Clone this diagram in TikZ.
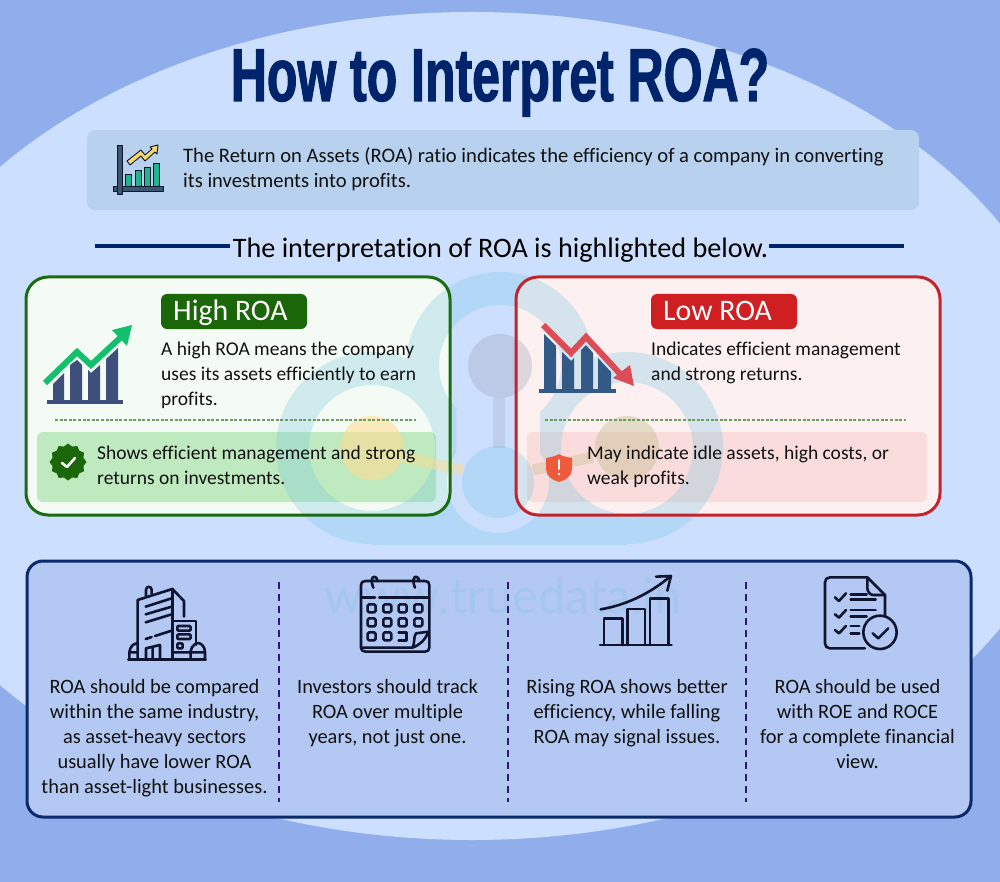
\documentclass[tikz,border=0pt]{standalone}
\usepackage{fontspec}
\usetikzlibrary{shapes.geometric}
\setmainfont[Ligatures=NoCommon]{Carlito}
\newfontfamily\titlefont[UprightFont={* Bold},FakeStretch=0.666,FakeBold=1.4]{Liberation Sans}
\newfontfamily\wmfont{Lato}
\definecolor{bgblue}{HTML}{8FAEEB}
\definecolor{ellblue}{HTML}{CDDFFE}
\definecolor{navy}{HTML}{00246B}
\definecolor{hdrbox}{HTML}{B7D1EE}
\definecolor{panelblue}{HTML}{B3C8F2}
\definecolor{panelline}{HTML}{0A2A6B}
\definecolor{divider}{HTML}{2B1A7A}
\definecolor{grn}{HTML}{1B6608}
\definecolor{grnline}{HTML}{1B6B13}
\definecolor{grncard}{HTML}{F4FBF4}
\definecolor{grnbox}{HTML}{BFE9BE}
\definecolor{red1}{HTML}{D01F22}
\definecolor{redline}{HTML}{C3242B}
\definecolor{redcard}{HTML}{FDF0F0}
\definecolor{redbox}{HTML}{FADCDC}
\definecolor{dashg}{HTML}{6E9B5F}
\definecolor{wmblue}{HTML}{70C5E2}
\definecolor{wmtop}{HTML}{969CB4}
\definecolor{wmyel}{HTML}{FFDD94}
\definecolor{wmolive}{HTML}{B4B478}
\definecolor{barnavy}{HTML}{3D4F7A}
\definecolor{barsteel}{HTML}{335A86}
\definecolor{upgreen}{HTML}{12BF6D}
\definecolor{downred}{HTML}{DB4C56}
\definecolor{iconink}{HTML}{0F1530}
\definecolor{ink}{HTML}{111111}
\definecolor{tealbar}{HTML}{22B48C}
\definecolor{yelarrow}{HTML}{F7D96A}
\definecolor{axisblue}{HTML}{3B5670}
\definecolor{shieldred}{HTML}{F05A3C}
\tikzset{
  lead/.style={inner sep=0pt,anchor=north west,align=left,text=ink,font=\fontsize{19.5}{25}\selectfont},
  leadwide/.style={lead,font=\fontsize{20.6}{25}\selectfont},
  colnote/.style={inner sep=0pt,anchor=north,align=center,text=ink,font=\fontsize{20.4}{25}\selectfont},
  pilltext/.style={inner sep=0pt,anchor=base west,text=white,font=\fontsize{29.8}{32}\selectfont},
  card/.style={rounded corners=22pt,line width=3pt},
  softbox/.style={rounded corners=6pt},
  pill/.style={rounded corners=6pt},
  dashrule/.style={draw=dashg,line width=1.1pt,dash pattern=on 3pt off 1.6pt},
  coldiv/.style={draw=divider,line width=2pt,dash pattern=on 7pt off 5pt},
  ruleline/.style={draw=navy,line width=3.5pt},
  ico/.style={draw=iconink,line width=2.6pt,line cap=round,line join=round},
}
\begin{document}
\begin{tikzpicture}[x=1pt,y=-1pt]
\useasboundingbox (0,0) rectangle (1000,882);
\begin{scope}
\clip (0,0) rectangle (1000,882);
\fill[bgblue] (0,0) rectangle (1000,882);
\fill[ellblue] (472,426) ellipse [x radius=605,y radius=414];
\end{scope}

% header box
\fill[hdrbox,rounded corners=8pt] (87,130) rectangle (919,210);

% cards
\path[card,fill=grncard] (26,277) rectangle (450,515);
\path[card,fill=redcard] (516,277) rectangle (940,515);
\fill[grnbox,softbox] (37,432) rectangle (436,502);
\fill[redbox,softbox] (527,432) rectangle (927,502);

% logo watermark
\begin{scope}[transparency group,opacity=.28]
\begin{scope}[even odd rule]
\clip (0,0) rectangle (1000,882) (372,448) circle [radius=63];
\clip (0,0) rectangle (1000,882) (627,448) circle [radius=66];
\clip (0,0) rectangle (1000,882) (500,366) circle [radius=61];
\clip (0,0) rectangle (1000,882) (498,482) circle [radius=51];
\clip (0,0) rectangle (1000,882) (456,410) rectangle (540,470);
\fill[wmblue] (372,448) circle [radius=96];
\fill[wmblue] (627,448) circle [radius=96];
\fill[wmblue] (500,366) circle [radius=94];
\fill[wmblue] (372,500) rectangle (627,545);
\end{scope}
\fill[wmblue] (498,482) circle [radius=36];
\end{scope}
\fill[wmtop,opacity=.3] (500,366) circle [radius=32];
\fill[wmtop,opacity=.25] (493,398) rectangle (505,448);
\fill[wmyel,opacity=.6] (372,448) circle [radius=32];
\draw[wmyel,opacity=.5,line width=11pt] (403,457) -- (463,470);
\fill[wmolive,opacity=.33] (627,448) circle [radius=32];
\draw[wmolive,opacity=.28,line width=11pt] (533,470) -- (593,457);

% card borders on top
\draw[card,draw=grnline] (26,277) rectangle (450,515);
\draw[card,draw=redline] (516,277) rectangle (940,515);

% title and intro
\node[inner sep=0pt,anchor=base,text=navy,font=\fontsize{75}{80}\titlefont] (title) at (500,101) {How to Interpret ROA?};

% intro icon
\begin{scope}[line join=round]
  \foreach \bx/\bt in {125/174,135/170,144/167,153/163}{
    \draw[fill=tealbar,draw=iconink,line width=.6pt] (\bx,186) rectangle (\bx+6,\bt);
  }
  \draw[fill=yelarrow,draw=iconink,line width=.9pt]
    (127,161) -- (141,150) -- (145,155) -- (152,149) -- (150,147) -- (158,145) -- (157,154) -- (155,152) -- (145,161) -- (141,156) -- (130,165) -- cycle;
  \draw[fill=axisblue,draw=iconink,line width=.7pt] (113,186) rectangle (163,191);
  \draw[fill=axisblue,draw=iconink,line width=.7pt] (117,145) rectangle (122,194);
\end{scope}
\node[leadwide] (intro) at (183,144.5) {\strut The Return on Assets (ROA) ratio indicates the efficiency of a company in converting\\its investments into profits.};

% section heading
\node[inner sep=0pt,anchor=base,text=black,font=\fontsize{28.2}{32}\selectfont] (section) at (500.5,257.5) {The interpretation of ROA is highlighted below.};
\coordinate (ruleL) at (95,246);
\coordinate (ruleR) at (904,246);
\draw[ruleline] (ruleL) -- (230,246);
\draw[ruleline] (769,246) -- (ruleR);

% High ROA
\path[pill,fill=grn] (161,294) rectangle (307,329);
\node[pilltext] (hightitle) at (173,320) {High ROA};
\fill[barnavy] (53,402) -- (53,384) -- (64,373) -- (64,402) -- cycle;
\fill[barnavy] (70,402) -- (70,365) -- (77,360) -- (82,365) -- (82,402) -- cycle;
\fill[barnavy] (88,402) -- (88,370) -- (91,373) -- (100,365) -- (100,402) -- cycle;
\fill[barnavy] (106,402) -- (106,359) -- (118,348) -- (118,402) -- cycle;
\fill[barnavy] (47,400) rectangle (123,404);
\draw[upgreen,line width=6pt,line join=miter] (45,383) -- (77,352) -- (91,365) -- (120,338);
\fill[upgreen] (132,325) -- (112,330) -- (127,346) -- cycle;
\node[lead] (hightext) at (161,337.5) {\strut A high ROA means the company\\uses its assets efficiently to earn\\profits.};
\coordinate (dashHa) at (55,420);
\coordinate (dashHb) at (416,420);
\draw[dashrule] (dashHa) -- (dashHb);
\node[star,star points=12,star point ratio=1.16,minimum size=37pt,inner sep=0pt,fill=grn] (badge) at (68,462) {};
\draw[white,line width=2.6pt,line cap=round,line join=round] (62,463) -- (67,467) -- (75,458);
\node[lead] (highnote) at (97,442) {\strut Shows efficient management and strong\\returns on investments.};

% Low ROA
\path[pill,fill=red1] (651,294) rectangle (797,329);
\node[pilltext] (lowtitle) at (663,320) {Low ROA};
\fill[barsteel] (544,391) -- (544,334) -- (556,346) -- (556,391) -- cycle;
\fill[barsteel] (562,391) -- (562,352) -- (571,361) -- (574,358) -- (574,391) -- cycle;
\fill[barsteel] (581,391) -- (581,350) -- (586,345) -- (593,353) -- (593,391) -- cycle;
\fill[barsteel] (598,391) -- (598,358) -- (611,372) -- (611,391) -- cycle;
\fill[barsteel] (539,389) rectangle (616,392.5);
\draw[downred,line width=6pt,line join=miter] (543,325) -- (571,353) -- (586,337) -- (623,377);
\fill[downred] (634,386) -- (613,378) -- (630,365) -- cycle;
\node[lead] (lowtext) at (651,337.5) {\strut Indicates efficient management\\and strong returns.};
\coordinate (dashLa) at (545,420);
\coordinate (dashLb) at (906,420);
\draw[dashrule] (dashLa) -- (dashLb);
\fill[shieldred] (546,458) .. controls (552,457) and (556,456) .. (559,454) .. controls (562,456) and (566,457) .. (572,458) -- (572,469) .. controls (572,476) and (566,480) .. (559,482) .. controls (552,480) and (546,476) .. (546,469) -- cycle;
\draw[white,line width=2pt,line cap=round] (559,460) -- (559,469);
\fill[white] (559,474) circle [radius=1.3];
\node[lead] (lownote) at (587,442) {\strut May indicate idle assets, high costs, or\\weak profits.};

% bottom panel
\draw[panelline,fill=panelblue,line width=3pt,rounded corners=16pt] (27,561) rectangle (971,817);
\node[inner sep=0pt,anchor=base,text=wmblue!20!panelblue,font=\fontsize{48.7}{52}\wmfont] (wmtext) at (503,613) {www.truedata.in};
\foreach \dx/\dn in {279/a,508/b,746/c}{
  \coordinate (div\dn t) at (\dx,582);
  \coordinate (div\dn b) at (\dx,802);
  \draw[coldiv] (div\dn t) -- (div\dn b);
}

% building icon
\begin{scope}[shift={(100,565)},scale=.3333]
  \draw[ico] (113,280) -- (113,105) -- (217,72) -- (252,108) -- (252,155);
  \draw[ico] (138,95) -- (138,75) .. controls (138,62) and (155,62) .. (155,75) -- (155,88);
  \draw[ico] (137,125) -- (215,100) (137,148) -- (215,125) (137,172) -- (215,148) (137,222) -- (155,216) (165,213) -- (215,197);
  \draw[ico] (217,72) -- (217,280);
  \draw[ico] (217,168) -- (288,168) -- (288,240);
  \draw[ico,rounded corners=1pt] (232,183) rectangle (272,197) (232,208) rectangle (272,222) (232,235) rectangle (248,250);
  \draw[ico] (138,280) -- (138,250) -- (180,240) -- (180,280) (158,245) -- (158,280);
  \draw[ico] (85,283) -- (317,283);
  \draw[ico] (88,283) -- (88,262) .. controls (90,245) and (100,235) .. (113,235) (88,262) -- (113,262);
  \draw[ico] (217,262) -- (272,262) (272,283) -- (272,258) .. controls (275,240) and (290,234) .. (295,234) .. controls (305,236) and (315,245) .. (315,262) -- (315,283) (272,262) -- (315,262);
\end{scope}

% calendar icon
\begin{scope}[shift={(100,565)},scale=.3333]
  \draw[ico] (937,260) -- (797,260) .. controls (788,260) and (783,255) .. (783,248) -- (783,60) .. controls (783,52) and (788,48) .. (797,48) -- (975,48) .. controls (984,48) and (988,52) .. (988,60) -- (988,248) .. controls (988,255) and (984,260) .. (975,260) -- (937,260);
  \draw[ico] (785,98) -- (825,98) (838,98) -- (985,98);
  \draw[ico] (820,68) .. controls (812,50) and (815,35) .. (823,35) .. controls (830,35) and (832,42) .. (832,48);
  \draw[ico] (945,68) .. controls (937,50) and (940,35) .. (948,35) .. controls (955,35) and (957,42) .. (957,48);
  \foreach \cy in {130,172}{\foreach \cx in {815,862,908,955}{
    \draw[ico,rounded corners=1.5pt] (\cx-12,\cy-12) rectangle (\cx+12,\cy+12);}}
  \foreach \cx in {815,862}{\draw[ico,rounded corners=1.5pt] (\cx-12,202) rectangle (\cx+12,226);}
  \draw[ico] (896,202) -- (920,202) -- (920,226) -- (896,226);
  \draw[ico] (785,248) -- (937,248) .. controls (945,240) and (940,215) .. (948,205) -- (986,200) (937,248) .. controls (960,240) and (975,225) .. (986,200);
\end{scope}

% growth icon
\begin{scope}[shift={(580,565)},scale=.3333]
  \draw[ico] (60,240) -- (275,240);
  \draw[ico] (72,240) -- (72,160) -- (128,160) -- (128,240);
  \draw[ico] (142,240) -- (142,132) -- (195,132) -- (195,240);
  \draw[ico] (210,240) -- (210,100) -- (265,100) -- (265,240);
  \draw[ico] (62,133) .. controls (140,120) and (210,85) .. (270,35);
  \draw[ico] (228,35) -- (273,33) -- (262,77);
\end{scope}

% checklist icon
\begin{scope}[shift={(580,565)},scale=.3333]
  \draw[ico] (855,250) -- (750,250) .. controls (741,250) and (735,244) .. (735,235) -- (735,52) .. controls (735,43) and (741,37) .. (750,37) -- (862,37) -- (915,90) -- (915,155);
  \draw[ico] (862,37) -- (862,68) .. controls (862,80) and (870,90) .. (880,90) -- (915,90);
  \draw[ico] (765,97) -- (777,108) -- (798,85) (765,148) -- (777,158) -- (798,135) (765,195) -- (777,205) -- (798,183);
  \draw[ico] (812,88) -- (860,88) (812,104) -- (887,104) (812,135) -- (887,135) (812,155) -- (860,155) (812,183) -- (838,183) (812,205) -- (838,205);
  \draw[ico] (900,202) circle [radius=50];
  \draw[ico] (878,205) -- (895,220) -- (925,190);
\end{scope}

% column notes
\node[colnote] (noteA) at (154.5,675.5) {\strut ROA should be compared\\within the same industry,\\as asset-heavy sectors\\usually have lower ROA\\than asset-light businesses.};
\node[colnote] (noteB) at (387.5,675.5) {\strut Investors should track\\ROA over multiple\\years, not just one.};
\node[colnote] (noteC) at (627,675.5) {\strut Rising ROA shows better\\efficiency, while falling\\ROA may signal issues.};
\node[colnote] (noteD) at (857.5,675.5) {\strut ROA should be used\\with ROE and ROCE\\for a complete financial\\view.};
\end{tikzpicture}
\end{document}
